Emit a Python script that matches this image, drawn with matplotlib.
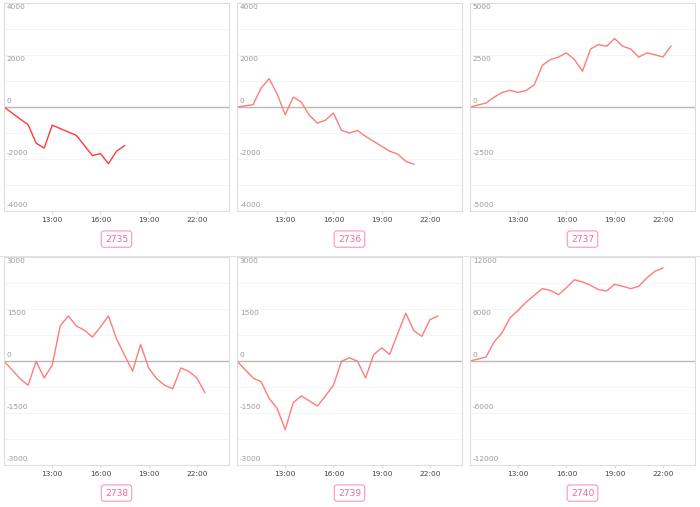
import matplotlib
matplotlib.use('Agg')
import matplotlib.pyplot as plt
from matplotlib.lines import Line2D

# hours of the day for each series
t_2735 = [10, 11, 11.5, 12, 12.5, 13, 14.5, 15.5, 16, 16.5, 17, 17.5]
v_2735 = [0, -460, -680, -1390, -1580, -700, -1090, -1870, -1790, -2180, -1700, -1490]

t_2736 = [10, 11, 11.5, 12, 12.5, 13, 13.5, 14, 14.5, 15, 15.5, 16, 16.5, 17, 17.5,
          18, 18.5, 19, 19.5, 20, 20.5, 21]
v_2736 = [0, 90, 730, 1090, 500, -300, 380, 190, -320, -620, -510, -230, -900, -1000,
          -900, -1130, -1320, -1510, -1700, -1810, -2090, -2200]

t_2737 = [10, 11, 11.5, 12, 12.5, 13, 13.5, 14, 14.5, 15, 15.5, 16, 16.5, 17, 17.5,
          18, 18.5, 19, 19.5, 20, 20.5, 21, 21.5, 22, 22.5]
v_2737 = [0, 190, 470, 700, 800, 700, 800, 1070, 2000, 2280, 2400, 2600, 2280, 1720,
          2790, 3000, 2920, 3290, 2920, 2790, 2400, 2600, 2520, 2400, 2920]

t_2738 = [10, 11, 11.5, 12, 12.5, 13, 13.5, 14, 14.5, 15, 15.5, 16, 16.5, 17, 17.5,
          18, 18.5, 19, 19.5, 20, 20.5, 21, 21.5, 22, 22.5]
v_2738 = [0, -510, -700, -10, -490, -120, 1010, 1300, 1010, 890, 690, 980, 1300, 640,
          170, -290, 480, -200, -510, -700, -800, -200, -300, -490, -910]

t_2739 = t_2738
v_2739 = [0, -490, -600, -1080, -1370, -1980, -1200, -1010, -1150, -1300, -1010, -700,
          -10, 95, -10, -490, 180, 380, 190, 790, 1380, 880, 710, 1190, 1300]

t_2740 = [10, 11, 11.5, 12, 12.5, 13, 13.5, 14, 14.5, 15, 15.5, 16, 16.5, 17, 17.5,
          18, 18.5, 19, 19.5, 20, 20.5, 21, 21.5, 22]
v_2740 = [0, 460, 2190, 3270, 5000, 5850, 6810, 7580, 8350, 8150, 7650, 8460, 9380,
          9120, 8730, 8230, 8080, 8850, 8620, 8350, 8620, 9580, 10350, 10730]

codes = ['2735', '2736', '2737', '2738', '2739', '2740']
times = [t_2735, t_2736, t_2737, t_2738, t_2739, t_2740]
values = [v_2735, v_2736, v_2737, v_2738, v_2739, v_2740]
ranges = [4000, 4000, 5000, 3000, 3000, 12000]
line_colors = ['#ff3a3a', '#ff7b7b', '#ff7b7b', '#ff7b7b', '#ff7b7b', '#ff7b7b']

x_ticks = [13, 16, 19, 22]
x_labels = ['13:00', '16:00', '19:00', '22:00']

fig = plt.figure(figsize=(7, 5.07), dpi=100)

lefts = [4 / 700, 237 / 700, 470 / 700]
bottoms = [1 - 211 / 507, 1 - 465 / 507]
w, h = 225 / 700, 208 / 507

for i in range(6):
    ax = fig.add_axes([lefts[i % 3], bottoms[i // 3], w, h])
    r = ranges[i]
    ax.plot(times[i], values[i], color=line_colors[i], lw=1.0)
    ax.set_xlim(10, 24)
    ax.set_ylim(-r, r)

    # faint grid every quarter of the range
    for k in range(-3, 4):
        if k != 0:
            ax.axhline(k * r / 4, color='#f3f3f3', lw=0.6, zorder=0)
    ax.axhline(0, color='#b8b8b8', lw=1.0, zorder=1)

    # y labels drawn inside the plot
    ax.set_yticks([])
    for val in [r, r / 2, 0, -r / 2, -r]:
        txt = str(int(val))
        if val > 0:
            ax.text(0.012, val - r * 0.012, txt, transform=ax.get_yaxis_transform(),
                    va='top', ha='left', fontsize=5.3, color='#9a9a9a')
        else:
            ax.text(0.012, val + r * 0.03, txt, transform=ax.get_yaxis_transform(),
                    va='bottom', ha='left', fontsize=5.3, color='#9a9a9a')

    ax.set_xticks(x_ticks)
    ax.set_xticklabels(x_labels, fontsize=5.3, color='#444444')
    ax.tick_params(axis='x', length=2, width=0.5, color='#cccccc', pad=2)
    for s in ax.spines.values():
        s.set_color('#dddddd')
        s.set_linewidth(0.8)

    ax.text(0.5, -0.135, codes[i], transform=ax.transAxes, ha='center', va='center',
            fontsize=6.6, color='#f06a98',
            bbox=dict(boxstyle='round,pad=0.4,rounding_size=0.3', fc='white',
                      ec='#ff94b4', lw=0.8))

# separator under the first row
fig.add_artist(Line2D([0, 1], [1 - 256 / 507, 1 - 256 / 507], color='#e2e2e2', lw=0.8))

fig.savefig('out.png', dpi=100)
